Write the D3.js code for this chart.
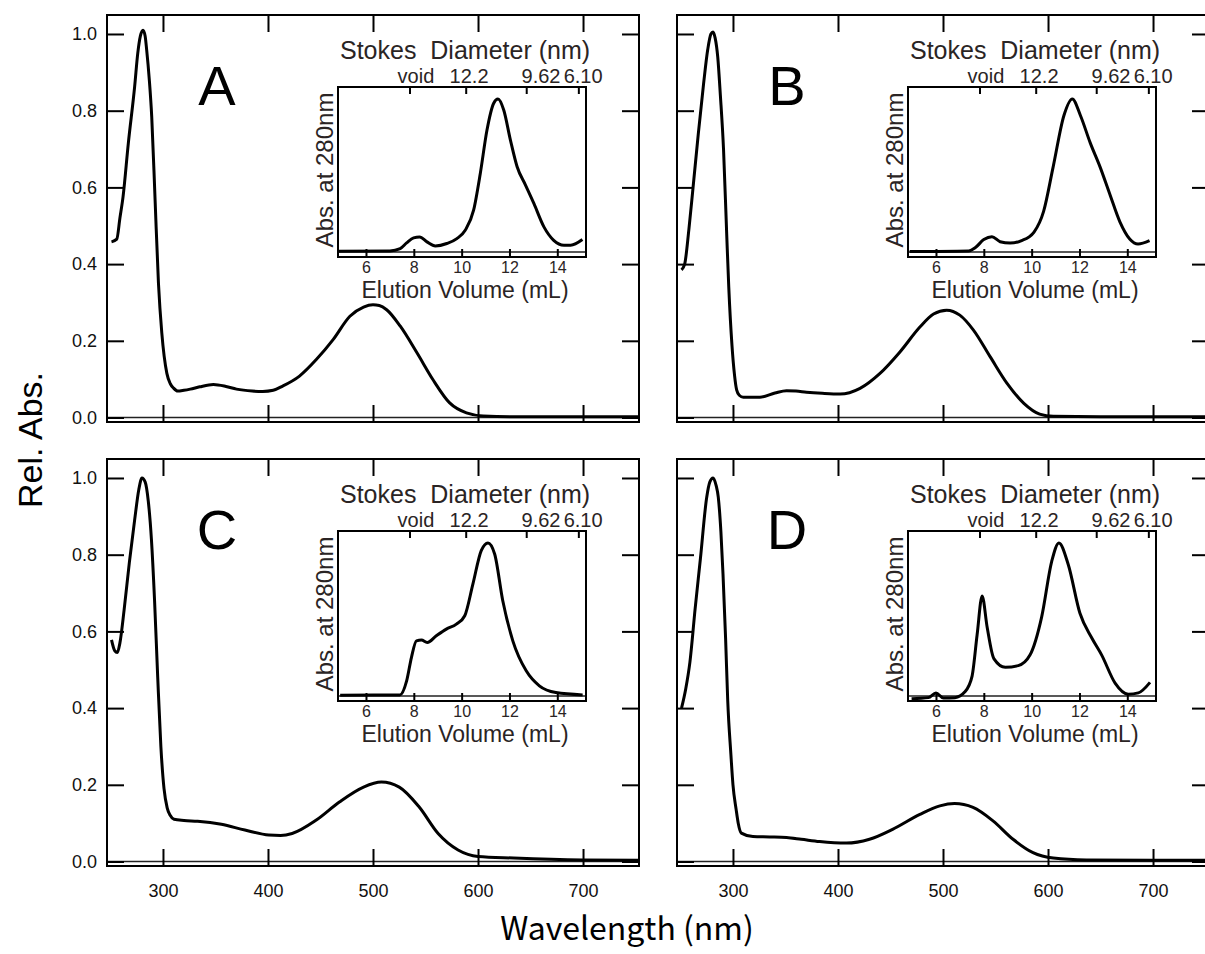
<!DOCTYPE html>
<html>
<head>
<meta charset="utf-8">
<script src="https://cdn.jsdelivr.net/npm/d3@7"></script>
<style>
  body { margin: 0; background: #fff; }
  svg { display: block; }
</style>
</head>
<body>
<div id="chart"></div>
<script>
// UV-vis spectra (wavelength nm, relative absorbance)
const wlA = [251, 256, 259, 262, 267, 273, 276, 278.5, 281, 283, 284.5, 287, 289.3, 292.5, 295.7, 298.9, 303.7, 307, 310, 314, 320, 326, 335, 348, 360, 370, 385, 395, 405, 414, 430, 446, 462, 478, 491, 500, 506, 513, 526, 542, 557, 573, 589, 605, 640, 700, 753];
const absA = [0.458, 0.465, 0.52, 0.576, 0.715, 0.862, 0.95, 0.995, 1.01, 0.995, 0.958, 0.88, 0.784, 0.567, 0.35, 0.22, 0.115, 0.088, 0.077, 0.069, 0.071, 0.074, 0.08, 0.086, 0.081, 0.074, 0.069, 0.068, 0.071, 0.082, 0.108, 0.151, 0.203, 0.264, 0.288, 0.294, 0.292, 0.281, 0.238, 0.168, 0.099, 0.038, 0.012, 0.004, 0.002, 0.002, 0.002];

const wlB = [251, 254, 258, 262, 267, 272, 276, 279, 281, 283, 285.5, 288, 291, 294, 296, 299, 301.5, 303.5, 306, 309.8, 318, 325.7, 340, 351, 360, 370, 385, 402, 421, 440, 459, 478, 491, 503.5, 516, 529, 545, 561, 577, 592, 605, 650, 753];
const absB = [0.385, 0.40, 0.49, 0.60, 0.74, 0.87, 0.96, 1.0, 1.005, 0.99, 0.94, 0.84, 0.70, 0.48, 0.34, 0.19, 0.11, 0.072, 0.058, 0.053, 0.053, 0.053, 0.064, 0.07, 0.069, 0.066, 0.063, 0.061, 0.076, 0.115, 0.171, 0.236, 0.270, 0.280, 0.267, 0.228, 0.158, 0.089, 0.037, 0.009, 0.003, 0.002, 0.002];

const wlC = [251, 254, 256.5, 259, 263, 268, 273, 277, 280, 283, 286, 289, 292, 295, 298, 301, 304, 307, 310.5, 320, 333, 355.6, 378, 400.8, 412, 423, 446, 468, 491, 508, 525, 544, 562, 581, 600, 634, 700, 753];
const absC = [0.578, 0.55, 0.545, 0.57, 0.656, 0.78, 0.89, 0.97, 1.0, 0.99, 0.94, 0.84, 0.68, 0.48, 0.30, 0.19, 0.14, 0.12, 0.11, 0.107, 0.105, 0.097, 0.082, 0.069, 0.068, 0.073, 0.108, 0.155, 0.194, 0.207, 0.194, 0.142, 0.073, 0.030, 0.013, 0.009, 0.004, 0.003];

const wlD = [251, 255, 259, 264, 269, 275, 278, 281, 284, 286, 288.5, 290.5, 293, 295, 298, 300, 303, 305, 308, 319, 335, 351, 365, 382.5, 408, 430, 452, 478, 497, 511, 528.6, 547.6, 566.7, 585.7, 605, 636.5, 700, 753];
const absD = [0.40, 0.45, 0.52, 0.66, 0.79, 0.95, 0.99, 1.0, 0.98, 0.95, 0.86, 0.75, 0.58, 0.42, 0.28, 0.2, 0.136, 0.1, 0.074, 0.065, 0.064, 0.0625, 0.058, 0.052, 0.048, 0.058, 0.084, 0.123, 0.145, 0.151, 0.141, 0.106, 0.058, 0.023, 0.009, 0.004, 0.003, 0.003];

// Size-exclusion chromatograms (elution volume mL, normalised abs. at 280 nm)
const volA = [4.85, 7.0, 7.43, 7.7, 7.99, 8.24, 8.55, 8.9, 9.38, 9.8, 10.15, 10.5, 10.78, 11.06, 11.34, 11.52, 11.76, 12.04, 12.32, 12.67, 13.02, 13.44, 13.85, 14.28, 14.56, 15.05];
const secA = [0.004, 0.007, 0.022, 0.059, 0.092, 0.098, 0.066, 0.039, 0.055, 0.087, 0.142, 0.273, 0.513, 0.797, 0.972, 1.0, 0.928, 0.731, 0.557, 0.437, 0.317, 0.164, 0.076, 0.044, 0.044, 0.081];

const volB = [4.9, 7.37, 7.65, 8.0, 8.34, 8.68, 9.1, 9.58, 10.1, 10.5, 10.9, 11.35, 11.7, 12.04, 12.45, 12.86, 13.27, 13.69, 14.1, 14.45, 14.93];
const secB = [0.003, 0.007, 0.029, 0.081, 0.10, 0.067, 0.058, 0.074, 0.13, 0.265, 0.556, 0.892, 1.0, 0.892, 0.713, 0.556, 0.377, 0.197, 0.085, 0.052, 0.074];

const volC = [4.92, 7.42, 7.7, 7.9, 8.11, 8.32, 8.56, 8.94, 9.36, 9.78, 10.13, 10.47, 10.82, 11.1, 11.38, 11.72, 12.14, 12.7, 13.25, 13.94, 15.06];
const secC = [0.005, 0.007, 0.098, 0.251, 0.36, 0.365, 0.349, 0.393, 0.437, 0.469, 0.524, 0.731, 0.95, 1.0, 0.928, 0.622, 0.36, 0.164, 0.066, 0.022, 0.007];

const volD = [4.98, 5.68, 6.0, 6.31, 6.79, 7.21, 7.51, 7.72, 7.93, 8.14, 8.42, 8.9, 9.44, 9.93, 10.42, 10.84, 11.14, 11.53, 12.02, 12.51, 12.93, 13.49, 14.04, 14.46, 14.95];
const secD = [-0.018, -0.011, 0.02, -0.014, -0.011, 0.027, 0.13, 0.40, 0.654, 0.449, 0.244, 0.187, 0.198, 0.267, 0.517, 0.88, 1.0, 0.859, 0.54, 0.38, 0.267, 0.084, 0.011, 0.02, 0.089];

// ticks and labels
const wlTicks = [300, 400, 500, 600, 700];
const absTicks = [0, 0.2, 0.4, 0.6, 0.8, 1.0];
const volTicks = [6, 8, 10, 12, 14];
const stokesTickVol = [7.82, 10.17, 12.70, 14.88];
const stokesLabelVol = [8.09, 10.31, 13.32, 15.08];
const stokesLabels = ['void', '12.2', '9.62', '6.10'];
const panelLetters = ['A', 'B', 'C', 'D'];

const W = 1205, H = 954;
const PW = 532, PH = 407;       // main panel size
const IW = 248, IH = 170;       // inset size
const sans = 'Liberation Sans, Arial, Helvetica, sans-serif';
const jp = '"Noto Sans CJK JP", "Noto Sans", sans-serif';
const inkInset = '#2a2424';

const svg = d3.select('#chart').append('svg')
  .attr('width', W).attr('height', H);

const x = d3.scaleLinear().domain([246.7, 753.3]).range([0, PW]);
const y = d3.scaleLinear().domain([-0.0117, 1.0495]).range([PH, 0]);
const ix = d3.scaleLinear().domain([4.83, 15.2]).range([0, IW]);
const iy = d3.scaleLinear().domain([-0.033, 1.078]).range([IH, 0]);

const specLine = d3.line().x(d => x(d[0])).y(d => y(d[1])).curve(d3.curveMonotoneX);
const secLine = d3.line().x(d => ix(d[0])).y(d => iy(d[1])).curve(d3.curveMonotoneX);

const panels = [
  { left: 107, top: 15,  wl: wlA, abs: absA, vol: volA, sec: secA, yLabels: true,  xLabels: false },
  { left: 677, top: 15,  wl: wlB, abs: absB, vol: volB, sec: secB, yLabels: false, xLabels: false },
  { left: 107, top: 459, wl: wlC, abs: absC, vol: volC, sec: secC, yLabels: true,  xLabels: true },
  { left: 677, top: 459, wl: wlD, abs: absD, vol: volD, sec: secD, yLabels: false, xLabels: true }
];

function styleAxis(g, fontSize, family, color) {
  g.select('.domain').remove();
  g.selectAll('.tick line').attr('stroke', '#000').attr('stroke-width', 2);
  g.selectAll('.tick text')
    .attr('fill', color)
    .style('font-family', family)
    .style('font-size', fontSize + 'px');
}

panels.forEach((p, i) => {
  const g = svg.append('g').attr('transform', `translate(${p.left},${p.top})`);

  g.append('clipPath').attr('id', 'clip' + i)
    .append('rect').attr('width', PW).attr('height', PH);

  // zero line
  g.append('line')
    .attr('x1', 0).attr('x2', PW)
    .attr('y1', y(0)).attr('y2', y(0))
    .attr('stroke', '#222').attr('stroke-width', 1.5);

  // axes (ticks inward)
  g.append('g')
    .call(d3.axisLeft(y).tickValues(absTicks).tickSize(-17).tickPadding(10)
      .tickFormat(p.yLabels ? d3.format('.1f') : ''))
    .call(a => styleAxis(a, 18, sans, '#111'));

  g.append('g').attr('transform', `translate(${PW},0)`)
    .call(d3.axisRight(y).tickValues(absTicks).tickSize(-17).tickFormat(''))
    .call(a => styleAxis(a, 18, sans, '#111'));

  g.append('g')
    .call(d3.axisTop(x).tickValues(wlTicks).tickSize(-17).tickFormat(''))
    .call(a => styleAxis(a, 18, sans, '#111'));

  g.append('g').attr('transform', `translate(0,${PH})`)
    .call(d3.axisBottom(x).tickValues(wlTicks).tickSize(-17).tickPadding(18)
      .tickFormat(p.xLabels ? d3.format('d') : ''))
    .call(a => styleAxis(a, 18, sans, '#111'));

  // spectrum
  g.append('path')
    .datum(p.wl.map((w, k) => [w, p.abs[k]]))
    .attr('clip-path', `url(#clip${i})`)
    .attr('d', specLine)
    .attr('fill', 'none')
    .attr('stroke', '#000')
    .attr('stroke-width', 3)
    .attr('stroke-linejoin', 'round');

  // frame
  g.append('rect')
    .attr('width', PW).attr('height', PH)
    .attr('fill', 'none').attr('stroke', '#000').attr('stroke-width', 2);

  // panel letter
  g.append('text')
    .attr('x', 110).attr('y', 90)
    .attr('text-anchor', 'middle')
    .style('font-family', sans)
    .style('font-size', '56px')
    .text(panelLetters[i]);

  // ---- inset chromatogram ----
  const ins = g.append('g').attr('transform', 'translate(231,72)');
  ins.append('rect').attr('width', IW).attr('height', IH).attr('fill', '#fff');
  ins.append('clipPath').attr('id', 'iclip' + i)
    .append('rect').attr('width', IW).attr('height', IH);

  ins.append('line')
    .attr('x1', 0).attr('x2', IW)
    .attr('y1', iy(0)).attr('y2', iy(0))
    .attr('stroke', '#222').attr('stroke-width', 1.5);

  ins.append('g').attr('transform', `translate(0,${IH})`)
    .call(d3.axisBottom(ix).tickValues(volTicks).tickSize(-8).tickPadding(4.5).tickFormat(d3.format('d')))
    .call(a => styleAxis(a, 16, sans, inkInset));

  ins.append('g')
    .call(d3.axisTop(ix).tickValues(stokesTickVol).tickSize(-7).tickFormat(''))
    .call(a => styleAxis(a, 16, sans, inkInset));

  ins.selectAll('.stokes')
    .data(stokesLabels)
    .enter().append('text')
    .attr('class', 'stokes')
    .attr('x', (d, k) => ix(stokesLabelVol[k]))
    .attr('y', -4)
    .attr('text-anchor', 'middle')
    .attr('fill', inkInset)
    .style('font-family', sans)
    .style('font-size', '20px')
    .text(d => d);

  ins.append('text')
    .attr('x', 127).attr('y', -28)
    .attr('text-anchor', 'middle')
    .attr('fill', inkInset)
    .style('font-family', sans)
    .style('font-size', '25px')
    .style('white-space', 'pre')
    .text('Stokes  Diameter (nm)');

  ins.append('text')
    .attr('x', 127).attr('y', 211)
    .attr('text-anchor', 'middle')
    .attr('fill', inkInset)
    .style('font-family', sans)
    .style('font-size', '23px')
    .text('Elution Volume (mL)');

  ins.append('text')
    .attr('transform', 'translate(-5,83) rotate(-90)')
    .attr('text-anchor', 'middle')
    .attr('fill', inkInset)
    .style('font-family', sans)
    .style('font-size', '24px')
    .text('Abs. at 280nm');

  ins.append('path')
    .datum(p.vol.map((v, k) => [v, p.sec[k]]))
    .attr('clip-path', `url(#iclip${i})`)
    .attr('d', secLine)
    .attr('fill', 'none')
    .attr('stroke', '#000')
    .attr('stroke-width', 3)
    .attr('stroke-linejoin', 'round');

  ins.append('rect')
    .attr('width', IW).attr('height', IH)
    .attr('fill', 'none').attr('stroke', '#000').attr('stroke-width', 2);
});

// shared axis titles
svg.append('text')
  .attr('transform', 'translate(42,440) rotate(-90)')
  .attr('text-anchor', 'middle')
  .style('font-family', sans)
  .style('font-size', '34px')
  .text('Rel. Abs.');

svg.append('text')
  .attr('x', 627).attr('y', 940)
  .attr('text-anchor', 'middle')
  .style('font-family', jp)
  .style('font-size', '32px')
  .text('Wavelength (nm)');
</script>
</body>
</html>
